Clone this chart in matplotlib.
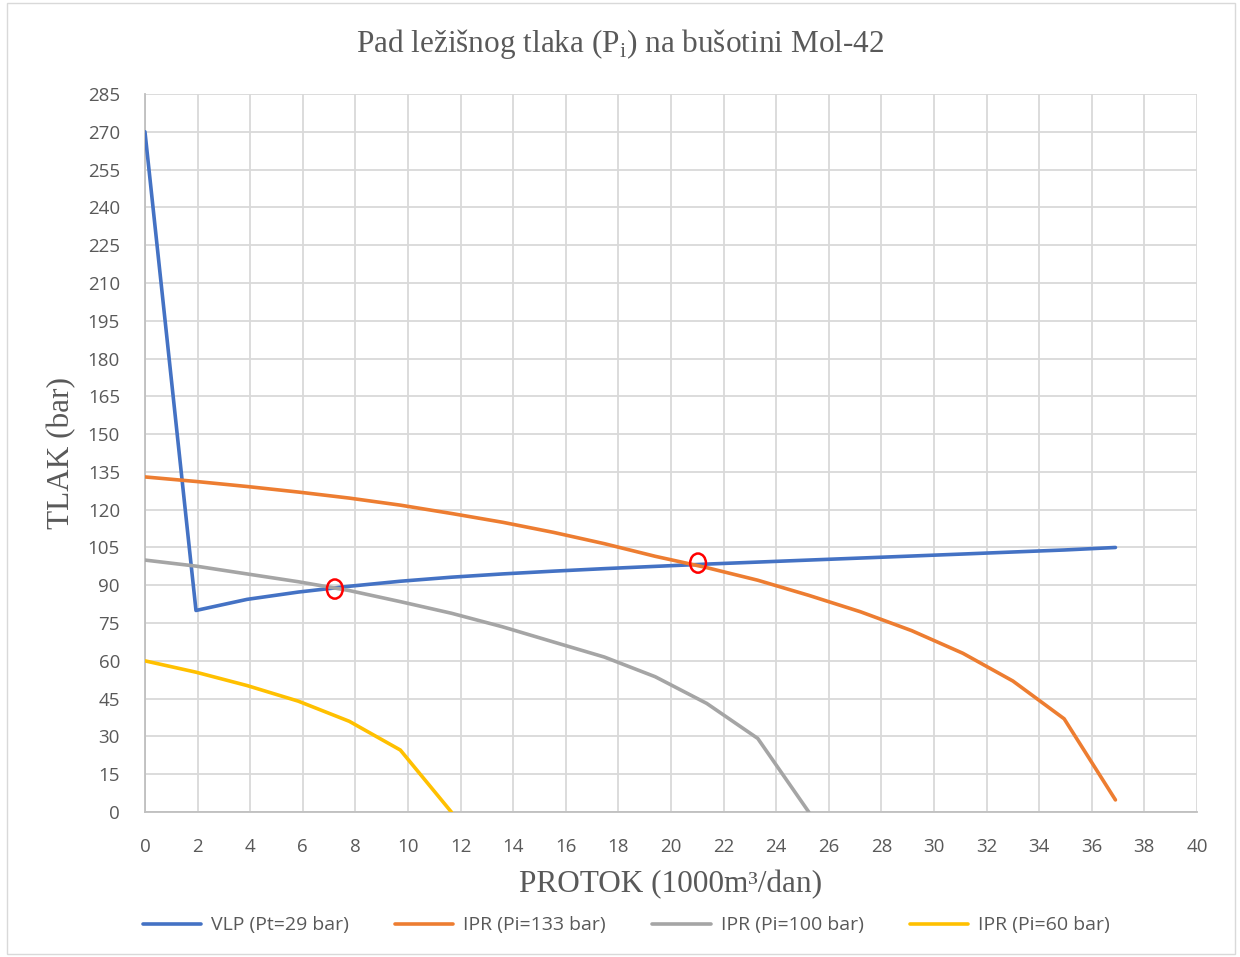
import numpy as np
import matplotlib
matplotlib.use('Agg')
import matplotlib.pyplot as plt
from matplotlib.patches import Ellipse, Rectangle

# Data -----------------------------------------------------------------------
q = [0, 1.94, 3.88, 5.83, 7.77, 9.71, 11.65, 13.6, 15.53, 17.47,
     19.4, 21.36, 23.3, 25.24, 27.2, 29.15, 31.1, 33.0, 34.95, 36.9]

vlp = [270, 80, 84.4, 87.3, 89.6, 91.6, 93.2, 94.5, 95.6, 96.6,
       97.5, 98.4, 99.2, 100.0, 100.8, 101.6, 102.4, 103.2, 104.0, 105.0]
ipr_133 = [133, 131.2, 129.2, 127, 124.6, 121.8, 118.5, 115, 111, 106.5,
           101.5, 97, 92, 86, 79.5, 72, 63, 52, 37, 4.8]
ipr_100 = [100, 97.6, 94.5, 91.4, 87.9, 83.5, 78.9, 73.5, 67.5, 61.5,
           53.7, 43.1, 29.2, 0]
ipr_60 = [60, 55.5, 50.2, 44, 36, 24.6, 0]

# operating points (red circles)
op_x = [7.22, 21.03]
op_y = [88.5, 98.8]

labels = ['VLP (Pt=29 bar)', 'IPR (Pi=133 bar)', 'IPR (Pi=100 bar)', 'IPR (Pi=60 bar)']
colors = ['#4472C4', '#ED7D31', '#A5A5A5', '#FFC000']

# Plot ---------------------------------------------------------------------
plt.rcParams['mathtext.fontset'] = 'custom'
plt.rcParams['mathtext.rm'] = 'Liberation Serif'

fig = plt.figure(figsize=(12.4, 9.57), dpi=100)
ax = fig.add_axes([0.1169, 0.1515, 0.8484, 0.7503])

series = [vlp, ipr_133, ipr_100, ipr_60]
for ys, lab, c in zip(series, labels, colors):
    ax.plot(q[:len(ys)], ys, color=c, lw=2.6, label=lab, solid_capstyle='round', zorder=3)

for x, y in zip(op_x, op_y):
    ax.add_patch(Ellipse((x, y), 0.6, 7.6, fill=False, edgecolor='#FF0000', lw=1.8, zorder=4))

ax.set_xlim(0, 40)
ax.set_ylim(0, 285)
ax.set_xticks(range(0, 41, 2))
ax.set_yticks(range(0, 286, 15))
ax.grid(True, color='#D9D9D9', lw=1.3)
ax.set_axisbelow(True)
for s in ['top', 'right']:
    ax.spines[s].set_visible(False)
for s in ['left', 'bottom']:
    ax.spines[s].set_color('#BFBFBF')
    ax.spines[s].set_linewidth(1.3)
ax.tick_params(length=0, labelsize=13.5, colors='#595959')
ax.tick_params(axis='y', pad=18)
ax.tick_params(axis='x', pad=19)
for t in ax.get_xticklabels() + ax.get_yticklabels():
    t.set_fontfamily('Open Sans')

fig.text(0.5, 0.954, r'Pad ležišnog tlaka (P$_{\mathrm{i}}$) na bušotini Mol-42',
         fontfamily='Liberation Serif', fontsize=22.5, color='#595959',
         ha='center', va='center')
ax.set_xlabel('PROTOK (1000m³/dan)', fontfamily='Liberation Serif', fontsize=22.5,
              color='#595959', labelpad=10)
ax.set_ylabel('TLAK (bar)', fontfamily='Liberation Serif', fontsize=22.5,
              color='#595959', labelpad=8)

leg = fig.legend(loc='center', bbox_to_anchor=(0.505, 0.033), ncol=4, frameon=False,
                 handlelength=3.0, handletextpad=0.5, columnspacing=2.4,
                 prop={'family': 'Open Sans', 'size': 14})
for t in leg.get_texts():
    t.set_color('#595959')

# outer chart border
fig.patches.append(Rectangle((0.006, 0.003), 0.99, 0.994, transform=fig.transFigure,
                             fill=False, edgecolor='#D9D9D9', lw=1))

fig.savefig('out.png', dpi=100)
